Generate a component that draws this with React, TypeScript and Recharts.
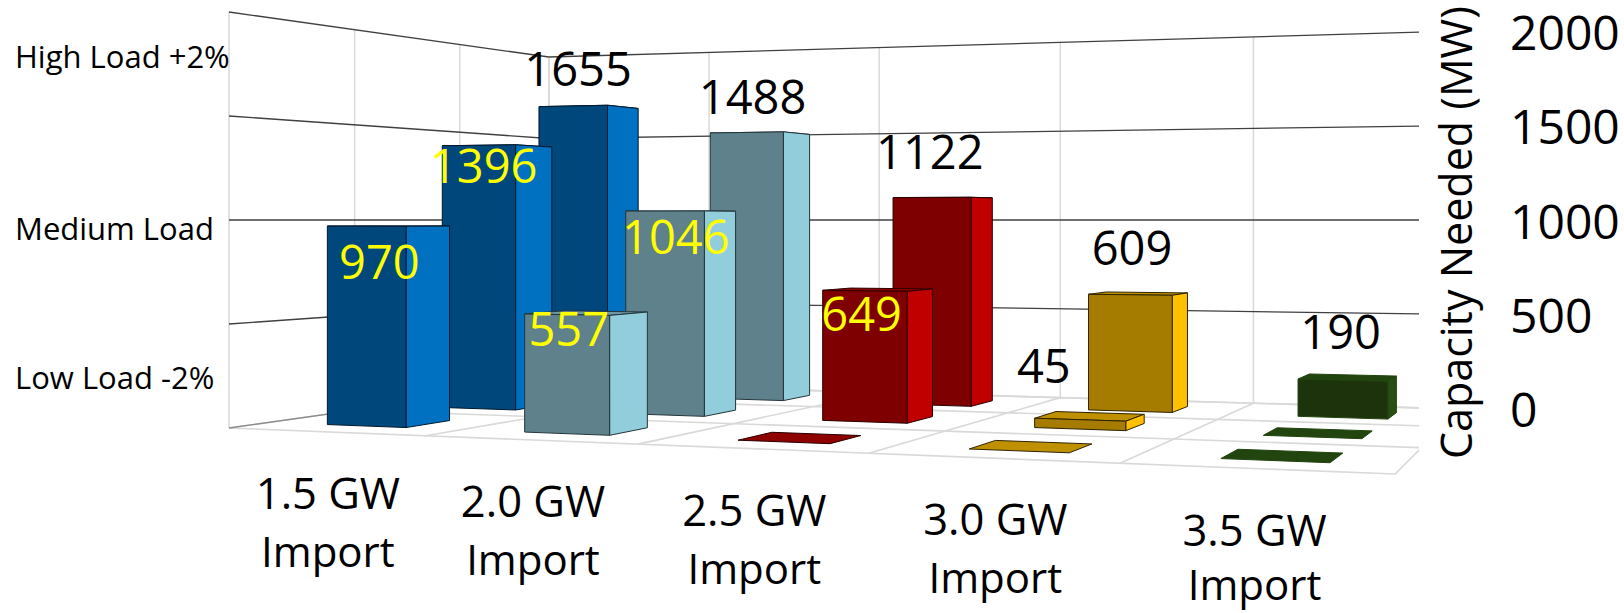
import { Bar, BarChart, LabelList, XAxis, YAxis } from "recharts";

const importLevels = ["1.5 GW", "2.0 GW", "2.5 GW", "3.0 GW", "3.5 GW"];
const lowLoad = [970, 557, 0, 0, 0];
const mediumLoad = [1396, 1046, 649, 45, 0];
const highLoad = [1655, 1488, 1122, 609, 190];
const capacityTicks = [0, 500, 1000, 1500, 2000];
const loadNames = ["Low Load -2%", "Medium Load", "High Load +2%"];

const chartData = importLevels.map((name, i) => ({
  name,
  low: lowLoad[i],
  medium: mediumLoad[i],
  high: highLoad[i],
}));

const FONT = '"Open Sans", sans-serif';
const WIDTH = 1624;
const HEIGHT = 613;

// flat plot box that recharts lays out, in pixels
const PLOT_TOP = 33;
const PLOT_BOTTOM = 410;
const U_ORIGIN = 229;
const U_SPAN = 1271;
const BAR_SIZE = 104;

// front edge of each depth row and how deep a column is, as floor fractions
const ROW_START = [0.1, 0.433, 0.767];
const COLUMN_DEPTH = 0.125;

const palette = [
  { front: "#00487c", side: "#0070c0", top: "#005a9c", stroke: "#00182c" },
  { front: "#5f818c", side: "#92cddc", top: "#6f98a5", stroke: "#24353b" },
  { front: "#7f0000", side: "#c00000", top: "#8f0000", stroke: "#2a0000" },
  { front: "#a67c00", side: "#ffc000", top: "#bf9000", stroke: "#2e2300" },
  { front: "#1c330c", side: "#274e13", top: "#22440f", stroke: "#22440f" },
];

// label shift from the top centre of a column's front face: [dx, dy, colour]
const labelShift: Record<number, [number, number, string]>[] = [
  { 0: [13, 35, "#ffff00"], 1: [2, 13, "#ffff00"] },
  {
    0: [5, 20, "#ffff00"],
    1: [11, 25, "#ffff00"],
    2: [-3, 22, "#ffff00"],
    3: [-36, -55, "#000"],
  },
  {
    0: [5, -38, "#000"],
    1: [6, -36, "#000"],
    2: [-2, -46, "#000"],
    3: [2, -48, "#000"],
    4: [-2, -49, "#000"],
  },
];

// import labels do not sit exactly under their columns
const tickShift = [0, 0, -1, -2, -7];

// floor homography: u runs along the imports, v runs from front to back
function floor(u: number, v: number) {
  const d = 1 - 0.19 * u + 0.2935 * v;
  return {
    x: (901 * u + 481 * v + 229) / d,
    y: (-44 * u + 67.4 * v + 428) / d,
  };
}

// eye level sits at 1000 MW, so heights mirror around that line
function project(u: number, v: number, mw: number) {
  const p = floor(u, v);
  return { x: p.x, y: 220 + (p.y - 220) * (1 - mw / 1000) };
}

const toU = (x: number) => (x - U_ORIGIN) / U_SPAN;
const toMw = (y: number) =>
  ((PLOT_BOTTOM - y) / (PLOT_BOTTOM - PLOT_TOP)) * 2000;

function quad(pts: { x: number; y: number }[]) {
  return pts.map((p) => `${p.x},${p.y}`).join(" ");
}

function Column(props: any) {
  const { x, y, width, index, row } = props;
  const u0 = toU(x);
  const u1 = toU(x + width);
  const v0 = ROW_START[row];
  const v1 = v0 + COLUMN_DEPTH;
  const mw = toMw(y);
  const c = palette[index];
  const strokeProps = { stroke: c.stroke, strokeWidth: 1, strokeLinejoin: "round" as const };

  if (mw < 1) {
    const plate = [
      project(u0, v0, 0),
      project(u1, v0, 0),
      project(u1, v1, 0),
      project(u0, v1, 0),
    ];
    return <polygon points={quad(plate)} fill={c.top} {...strokeProps} />;
  }

  const top = [
    project(u0, v0, mw),
    project(u1, v0, mw),
    project(u1, v1, mw),
    project(u0, v1, mw),
  ];
  const side = [
    project(u1, v0, 0),
    project(u1, v1, 0),
    project(u1, v1, mw),
    project(u1, v0, mw),
  ];
  const front = [
    project(u0, v0, 0),
    project(u1, v0, 0),
    project(u1, v0, mw),
    project(u0, v0, mw),
  ];
  return (
    <g>
      <polygon points={quad(top)} fill={c.top} {...strokeProps} />
      <polygon points={quad(side)} fill={c.side} {...strokeProps} />
      <polygon points={quad(front)} fill={c.front} {...strokeProps} />
    </g>
  );
}

function ColumnLabel(props: any) {
  const { x, y, width, value, index, row } = props;
  if (!value) return null;
  const [dx, dy, fill] = labelShift[row][index];
  const p = project(toU(x + width / 2), ROW_START[row], toMw(y));
  return (
    <text
      x={p.x + dx}
      y={p.y + dy}
      textAnchor="middle"
      dominantBaseline="central"
      fontFamily={FONT}
      fontSize={47}
      fill={fill}
    >
      {value}
    </text>
  );
}

function ImportTick(props: any) {
  const { x, payload, index } = props;
  const p = floor(toU(payload.coordinate ?? x), 0);
  const cx = p.x + tickShift[index];
  return (
    <text textAnchor="middle" fontFamily={FONT} fill="#000">
      <tspan x={cx} y={p.y + 77} fontSize={43.5}>
        {payload.value}
      </tspan>
      {/* keep the descender of the last label on the page */}
      <tspan x={cx} y={Math.min(p.y + 135, 600)} fontSize={42}>
        Import
      </tspan>
    </text>
  );
}

function Line3D({ a, b, color, w }: any) {
  return (
    <line x1={a.x} y1={a.y} x2={b.x} y2={b.y} stroke={color} strokeWidth={w} />
  );
}

// walls and floor of the box behind the columns
function Room() {
  const across = [0, 0.2, 0.4, 0.6, 0.8, 1];
  const deep = [0, 1 / 3, 2 / 3, 1];
  const LIGHT = "#d9d9d9";
  return (
    <g clipPath="url(#room-clip)">
      <rect x={0} y={0} width={WIDTH} height={HEIGHT} fill="#fff" />
      {across.map((u) => (
        <Line3D
          key={`fl-${u}`}
          a={floor(u, 0)}
          b={floor(u, 1)}
          color={LIGHT}
          w={1.6}
        />
      ))}
      {deep.map((v) => (
        <Line3D
          key={`fa-${v}`}
          a={floor(0, v)}
          b={floor(1, v)}
          color={LIGHT}
          w={1.6}
        />
      ))}
      {across.map((u) => (
        <Line3D
          key={`bv-${u}`}
          a={project(u, 1, 0)}
          b={project(u, 1, 2000)}
          color={LIGHT}
          w={1.5}
        />
      ))}
      {deep.map((v) => (
        <Line3D
          key={`lv-${v}`}
          a={project(0, v, 0)}
          b={project(0, v, 2000)}
          color={LIGHT}
          w={1.5}
        />
      ))}
      {capacityTicks.map((mw) => (
        <g key={mw}>
          <Line3D
            a={project(0, 0, mw)}
            b={project(0, 1, mw)}
            color={mw === 0 ? "#8c8c8c" : "#404040"}
            w={1.3}
          />
          <Line3D
            a={project(0, 1, mw)}
            b={project(1, 1, mw)}
            color={mw === 0 ? LIGHT : "#404040"}
            w={mw === 0 ? 1.6 : 1.3}
          />
        </g>
      ))}
    </g>
  );
}

function LoadNames() {
  const yPos = [377, 228, 56];
  return (
    <g>
      {loadNames.map((name, i) => (
        <text
          key={name}
          x={15}
          y={yPos[i]}
          dominantBaseline="central"
          fontFamily={FONT}
          fontSize={31}
          fill="#000"
        >
          {name}
        </text>
      ))}
    </g>
  );
}

export default function App() {
  return (
    <div style={{ position: "absolute", left: 0, top: 0, background: "#fff" }}>
      <BarChart
        width={WIDTH}
        height={HEIGHT}
        data={chartData}
        margin={{ top: PLOT_TOP, right: 0, bottom: 0, left: 232 }}
        barSize={BAR_SIZE}
        barGap={-BAR_SIZE}
      >
        <defs>
          <clipPath id="room-clip">
            <rect x={0} y={0} width={1419} height={HEIGHT} />
          </clipPath>
        </defs>
        <Room />
        <LoadNames />
        <XAxis
          dataKey="name"
          height={HEIGHT - PLOT_BOTTOM}
          axisLine={false}
          tickLine={false}
          interval={0}
          tick={<ImportTick />}
        />
        <YAxis
          orientation="right"
          width={117}
          domain={[0, 2000]}
          ticks={capacityTicks}
          interval={0}
          axisLine={false}
          tickLine={false}
          tickSize={0}
          tickMargin={3}
          tick={{ fontFamily: FONT, fontSize: 48, fill: "#000", textAnchor: "start" }}
          label={{
            value: "Capacity Needed (MW)",
            angle: -90,
            position: "insideLeft",
            offset: 0,
            dx: -50,
            dy: 11,
            style: { fontFamily: FONT, fontSize: 43, fill: "#000", textAnchor: "middle" },
          }}
        />
        <Bar
          dataKey="high"
          isAnimationActive={false}
          shape={(p: any) => <Column {...p} row={2} />}
        >
          <LabelList
            dataKey="high"
            content={(p: any) => <ColumnLabel {...p} row={2} />}
          />
        </Bar>
        <Bar
          dataKey="medium"
          isAnimationActive={false}
          shape={(p: any) => <Column {...p} row={1} />}
        >
          <LabelList
            dataKey="medium"
            content={(p: any) => <ColumnLabel {...p} row={1} />}
          />
        </Bar>
        <Bar
          dataKey="low"
          isAnimationActive={false}
          shape={(p: any) => <Column {...p} row={0} />}
        >
          <LabelList
            dataKey="low"
            content={(p: any) => <ColumnLabel {...p} row={0} />}
          />
        </Bar>
      </BarChart>
    </div>
  );
}
